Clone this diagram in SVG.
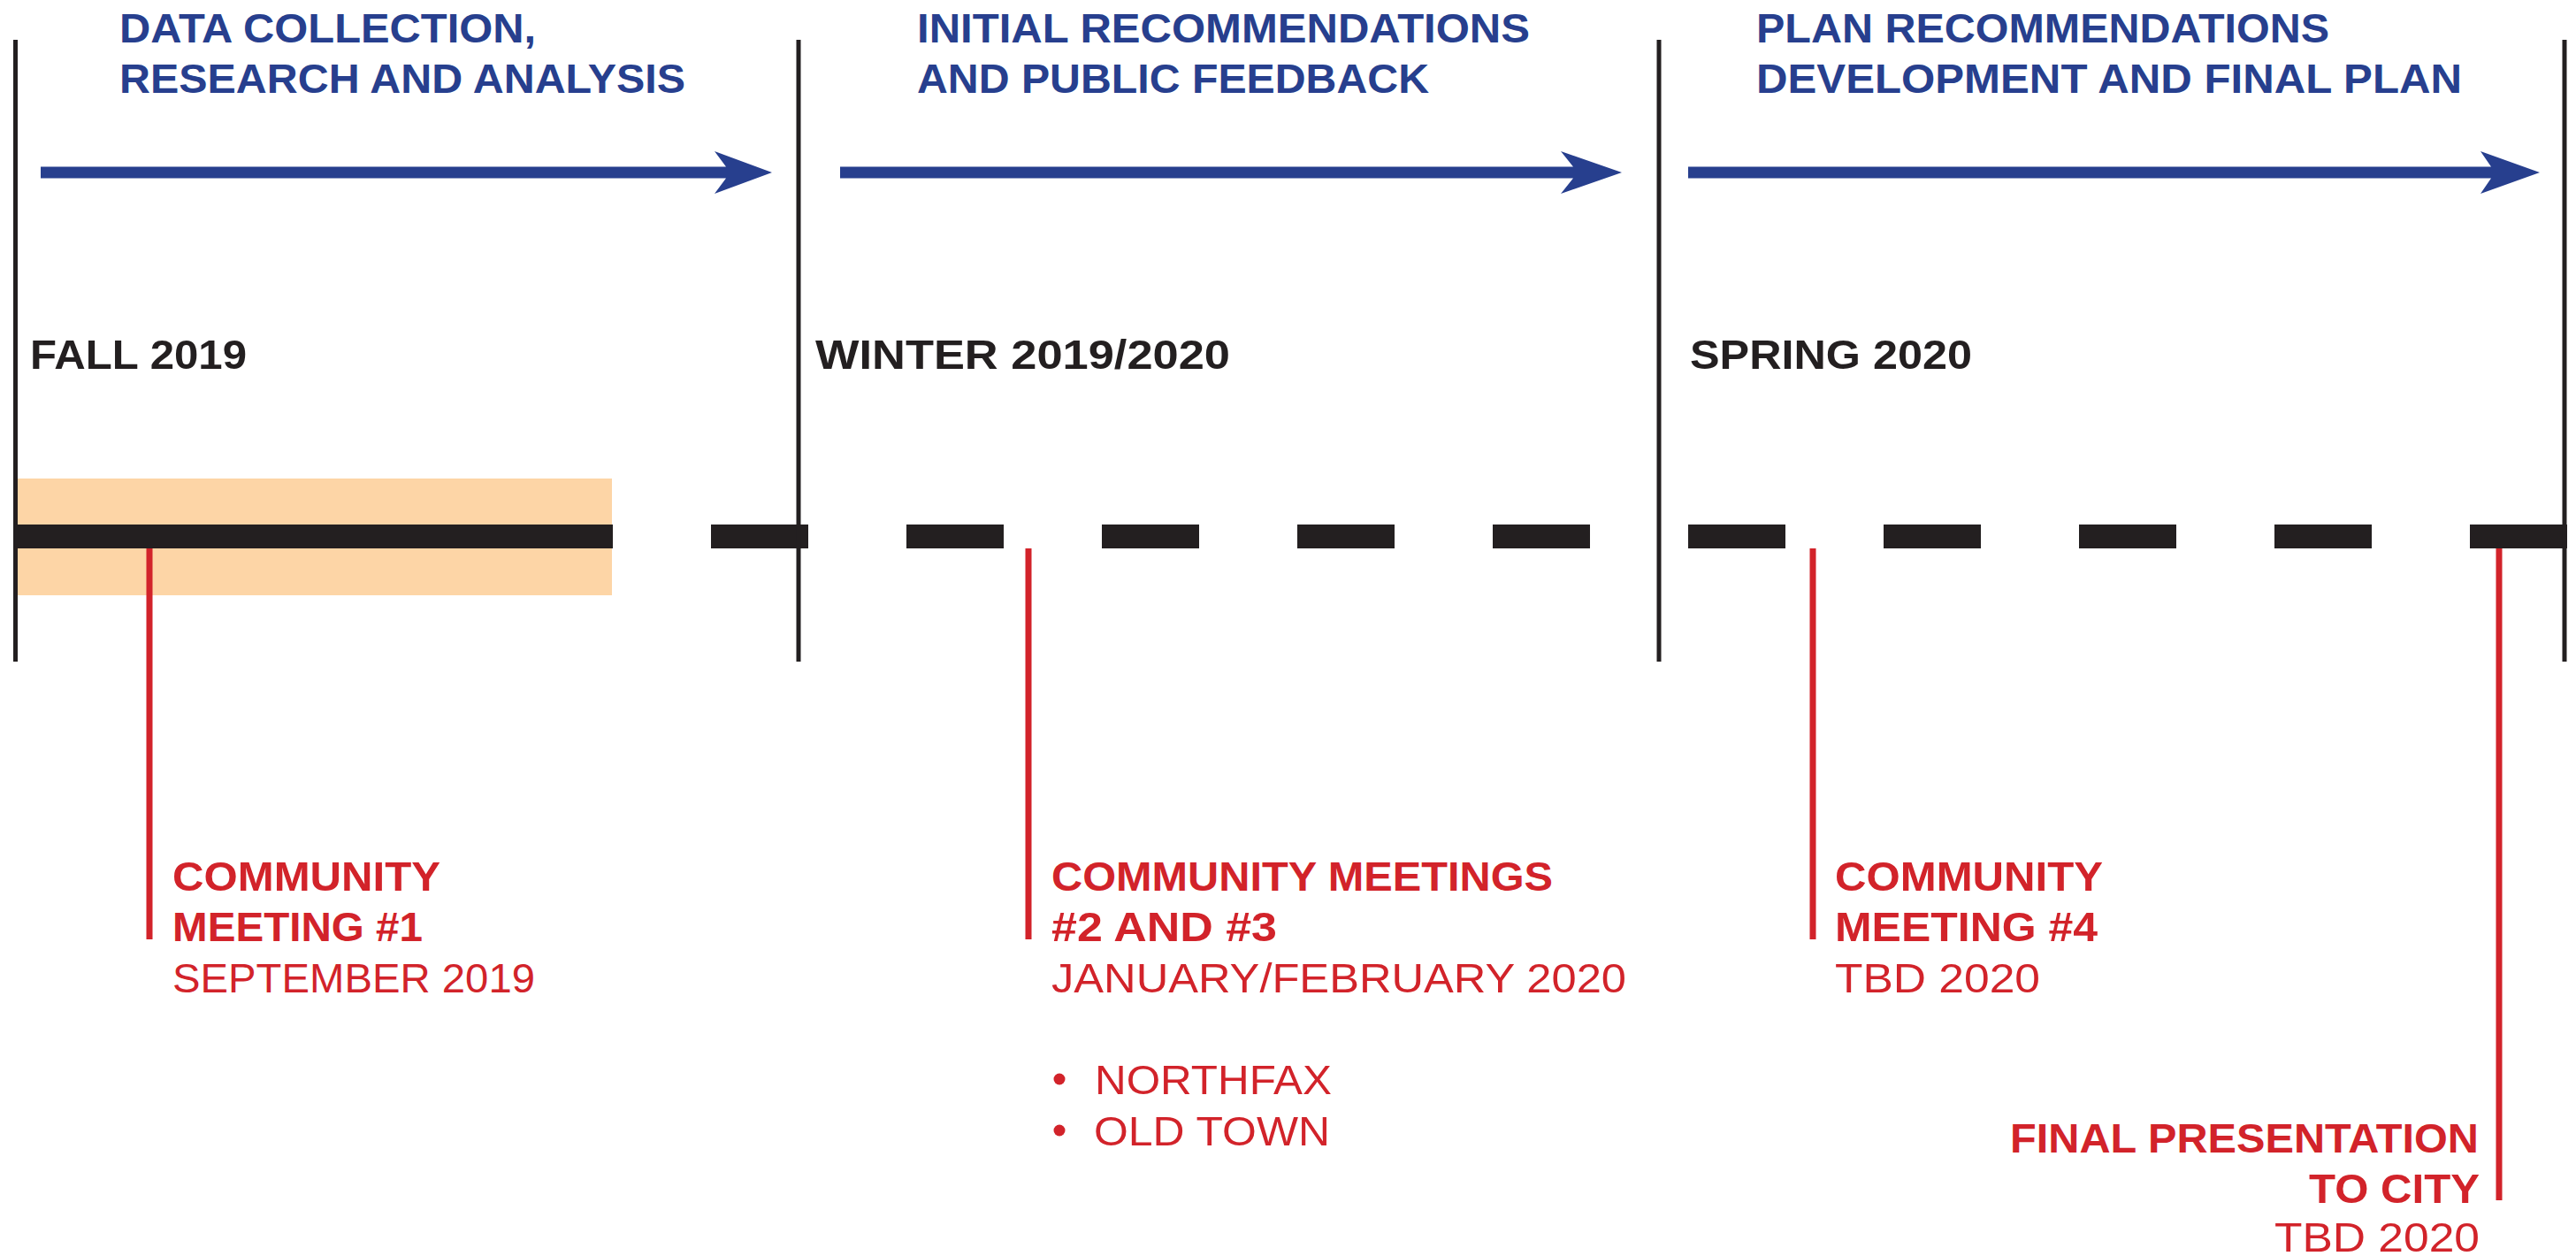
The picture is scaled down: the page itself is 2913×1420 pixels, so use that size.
<svg xmlns="http://www.w3.org/2000/svg" width="2913" height="1420" viewBox="0 0 2913 1420">
  <style>
    text { font-family: "Liberation Sans", Arial, sans-serif; }
    .title { font-weight: bold; font-size: 46px; fill: #273F8E; }
    .season { font-weight: bold; font-size: 47px; fill: #231F20; }
    .ms-head { font-weight: bold; font-size: 47px; fill: #D2232A; }
    .ms-date { font-size: 47px; fill: #D2232A; }
    .divider { stroke: #231F20; stroke-width: 5; }
    .dash { fill: #231F20; }
    .leader { stroke: #D2232A; stroke-width: 7; }
    .arrow { fill: #273F8E; }
  </style>
  <rect width="2913" height="1420" fill="#FFFFFF"/>

  <!-- highlighted current period -->
  <rect x="20" y="541" width="672" height="132" fill="#FDD5A6"/>

  <!-- timeline bar: solid span then dashes -->
  <g id="timeline">
    <rect class="dash" x="20" y="593" width="673" height="27"/>
    <rect class="dash" x="804" y="593" width="110" height="27"/>
    <rect class="dash" x="1025" y="593" width="110" height="27"/>
    <rect class="dash" x="1246" y="593" width="110" height="27"/>
    <rect class="dash" x="1467" y="593" width="110" height="27"/>
    <rect class="dash" x="1688" y="593" width="110" height="27"/>
    <rect class="dash" x="1909" y="593" width="110" height="27"/>
    <rect class="dash" x="2130" y="593" width="110" height="27"/>
    <rect class="dash" x="2351" y="593" width="110" height="27"/>
    <rect class="dash" x="2572" y="593" width="110" height="27"/>
    <rect class="dash" x="2793" y="593" width="110" height="27"/>
  </g>

  <!-- phase dividers -->
  <g id="dividers">
    <line class="divider" x1="17.5" y1="45" x2="17.5" y2="748"/>
    <line class="divider" x1="903" y1="45" x2="903" y2="748"/>
    <line class="divider" x1="1876" y1="45" x2="1876" y2="748"/>
    <line class="divider" x1="2900" y1="45" x2="2900" y2="748"/>
  </g>

  <!-- phases -->
  <g id="phase-1">
    <text class="title" x="135" y="48" textLength="471" lengthAdjust="spacingAndGlyphs">DATA COLLECTION,</text>
    <text class="title" x="135" y="105" textLength="640" lengthAdjust="spacingAndGlyphs">RESEARCH AND ANALYSIS</text>
    <text class="season" x="34" y="417" textLength="245" lengthAdjust="spacingAndGlyphs">FALL 2019</text>
  </g>
  <g id="phase-2">
    <text class="title" x="1037" y="48" textLength="693" lengthAdjust="spacingAndGlyphs">INITIAL RECOMMENDATIONS</text>
    <text class="title" x="1037" y="105" textLength="579" lengthAdjust="spacingAndGlyphs">AND PUBLIC FEEDBACK</text>
    <text class="season" x="922" y="417" textLength="469" lengthAdjust="spacingAndGlyphs">WINTER 2019/2020</text>
  </g>
  <g id="phase-3">
    <text class="title" x="1986" y="48" textLength="648" lengthAdjust="spacingAndGlyphs">PLAN RECOMMENDATIONS</text>
    <text class="title" x="1986" y="105" textLength="798" lengthAdjust="spacingAndGlyphs">DEVELOPMENT AND FINAL PLAN</text>
    <text class="season" x="1911" y="417" textLength="319" lengthAdjust="spacingAndGlyphs">SPRING 2020</text>
  </g>

  <!-- phase arrows -->
  <g id="connectors">
    <path class="arrow" d="M46,188.5 H821 L808,171 L873,195 L808,219 L821,201.5 H46 Z"/>
    <path class="arrow" d="M950,188.5 H1779 L1765,171 L1834,195 L1765,219 L1779,201.5 H950 Z"/>
    <path class="arrow" d="M1909,188.5 H2817 L2805,171 L2872,195 L2805,219 L2817,201.5 H1909 Z"/>
  </g>

  <!-- milestones -->
  <g id="meeting-1">
    <line class="leader" x1="169" y1="620" x2="169" y2="1062"/>
    <text class="ms-head" x="195" y="1007" textLength="303" lengthAdjust="spacingAndGlyphs">COMMUNITY</text>
    <text class="ms-head" x="195" y="1064" textLength="283" lengthAdjust="spacingAndGlyphs">MEETING #1</text>
    <text class="ms-date" x="195" y="1122" textLength="410" lengthAdjust="spacingAndGlyphs">SEPTEMBER 2019</text>
  </g>
  <g id="meetings-2-3">
    <line class="leader" x1="1163" y1="620" x2="1163" y2="1062"/>
    <text class="ms-head" x="1189" y="1007" textLength="567" lengthAdjust="spacingAndGlyphs">COMMUNITY MEETINGS</text>
    <text class="ms-head" x="1189" y="1064" textLength="255" lengthAdjust="spacingAndGlyphs">#2 AND #3</text>
    <text class="ms-date" x="1189" y="1122" textLength="650" lengthAdjust="spacingAndGlyphs">JANUARY/FEBRUARY 2020</text>
    <circle cx="1198" cy="1220" r="6.5" fill="#D2232A"/>
    <text class="ms-date" x="1238" y="1237" textLength="268" lengthAdjust="spacingAndGlyphs">NORTHFAX</text>
    <circle cx="1198" cy="1278" r="6.5" fill="#D2232A"/>
    <text class="ms-date" x="1237" y="1295" textLength="267" lengthAdjust="spacingAndGlyphs">OLD TOWN</text>
  </g>
  <g id="meeting-4">
    <line class="leader" x1="2050" y1="620" x2="2050" y2="1062"/>
    <text class="ms-head" x="2075" y="1007" textLength="303" lengthAdjust="spacingAndGlyphs">COMMUNITY</text>
    <text class="ms-head" x="2075" y="1064" textLength="297" lengthAdjust="spacingAndGlyphs">MEETING #4</text>
    <text class="ms-date" x="2075" y="1122" textLength="232" lengthAdjust="spacingAndGlyphs">TBD 2020</text>
  </g>
  <g id="final-presentation">
    <line class="leader" x1="2826" y1="620" x2="2826" y2="1357"/>
    <text class="ms-head" x="2803" y="1303" text-anchor="end" textLength="530" lengthAdjust="spacingAndGlyphs">FINAL PRESENTATION</text>
    <text class="ms-head" x="2804" y="1360" text-anchor="end" textLength="193" lengthAdjust="spacingAndGlyphs">TO CITY</text>
    <text class="ms-date" x="2804" y="1415" text-anchor="end" textLength="232" lengthAdjust="spacingAndGlyphs">TBD 2020</text>
  </g>
</svg>
